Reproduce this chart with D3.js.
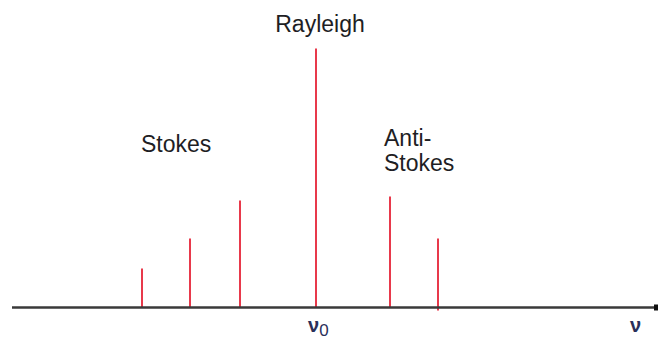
<!DOCTYPE html>
<html>
<head>
<meta charset="utf-8">
<script src="https://cdn.jsdelivr.net/npm/d3@7"></script>
<style>
  body { margin: 0; background: #fff; }
  text { font-family: "Liberation Sans", Arial, sans-serif; fill: #1e1e24; }
</style>
</head>
<body>
<div id="container"></div>
<script>
'use strict'

// frequency shift of each line relative to nu0 (arbitrary units) and its intensity
const shifts = [-174, -126, -76, 0, 74, 122];
const intensities = [39, 69, 107, 259, 111, 69];
const labels = [
  { text: ["Rayleigh"], x: 0, y: 276 },
  { text: ["Stokes"], x: -175, y: 156 },
  { text: ["Anti-", "Stokes"], x: 68, y: 162 }
];
const axisLabels = [{ main: "\u03BD", sub: "0", x: 0 }, { main: "\u03BD", sub: "", x: 322 }];

const w = 658;
const h = 341;

const xScale = d3.scaleLinear()
                 .domain([-304, 342])
                 .range([12, 658]);
const yScale = d3.scaleLinear()
                 .domain([0, 260])
                 .range([307.5, 47.5]);

const svg = d3.select("#container")
              .append("svg")
              .attr("width", w)
              .attr("height", h);

// spectral lines
svg.selectAll("line.peak")
   .data(shifts)
   .enter()
   .append("line")
   .attr("class", "peak")
   .attr("x1", d => xScale(d))
   .attr("x2", d => xScale(d))
   .attr("y1", (d, i) => yScale(0) + (i === shifts.length - 1 ? 3 : 0))
   .attr("y2", (d, i) => yScale(intensities[i]))
   .attr("stroke", "#e8394b")
   .attr("stroke-width", 2);

// frequency axis
svg.append("line")
   .attr("x1", xScale(-304)).attr("x2", xScale(340))
   .attr("y1", yScale(0)).attr("y2", yScale(0))
   .attr("stroke", "#3a3a3a")
   .attr("stroke-width", 2.5);
svg.append("rect")
   .attr("x", xScale(338)).attr("y", yScale(0) - 3)
   .attr("width", 4).attr("height", 6)
   .attr("fill", "#111");

// nu labels
axisLabels.forEach(function(a) {
  const t = svg.append("text")
     .attr("x", xScale(a.x) - 8)
     .attr("y", 332)
     .style("font-size", "20px")
     .style("font-weight", "bold")
     .style("fill", "#2a2f5a");
  t.append("tspan").text(a.main);
  if (a.sub) {
    t.append("tspan").attr("dy", 4).style("font-size", "17px").style("font-weight", "normal").text(a.sub);
  }
});

// peak labels
labels.forEach(function(l) {
  const x = xScale(l.x);
  l.text.forEach(function(s, k) {
    svg.append("text")
       .attr("x", l.x === 0 ? x + 4 : x)
       .attr("y", yScale(l.y) + k * 25)
       .attr("text-anchor", l.x === 0 ? "middle" : "start")
       .style("font-size", "23px")
       .text(s);
  });
});
</script>
</body>
</html>
